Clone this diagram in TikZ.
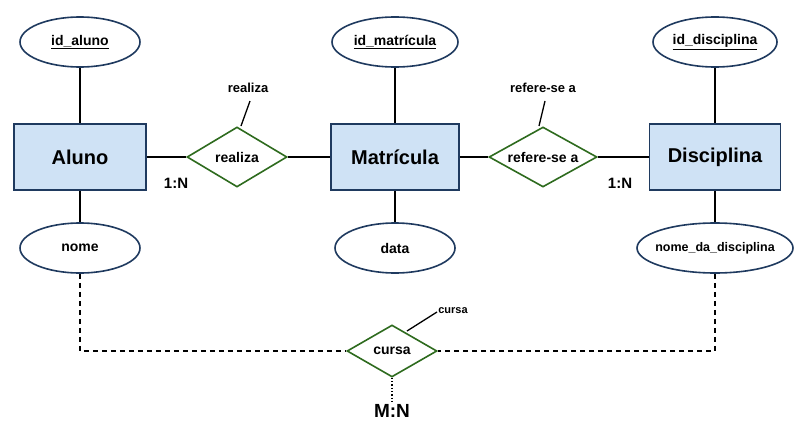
\documentclass[tikz,border=0pt]{standalone}
\usepackage{fontspec}
\setmainfont{Liberation Sans}
\usetikzlibrary{shapes.geometric}
\definecolor{ebox}{HTML}{CFE2F5}
\definecolor{eline}{HTML}{1F3A5F}
\definecolor{rel}{HTML}{2E6B1E}
\begin{document}
\begin{tikzpicture}[x=1pt,y=-1pt,
 ent/.style={draw=eline,line width=1.6pt,fill=ebox,minimum width=132pt,minimum height=66pt,font=\fontsize{20}{24}\selectfont\bfseries},
 att/.style={draw=eline,line width=1.6pt,ellipse,fill=white,minimum width=120pt,minimum height=50pt,inner sep=0pt,font=\fontsize{14}{17}\selectfont\bfseries},
 relt/.style={draw=rel,line width=1.6pt,diamond,aspect=1.7,fill=white,inner sep=0pt,font=\fontsize{14}{17}\selectfont\bfseries},
 lbl/.style={font=\fontsize{13}{15}\selectfont\bfseries},
 card/.style={font=\fontsize{15}{18}\selectfont\bfseries},
 ln/.style={line width=1.3pt,black}]
\useasboundingbox (0,0) rectangle (800,439);
\node[ent] (aluno) at (80,157) {Aluno};
\node[ent,minimum width=128pt] (matr) at (395,157) {Matrícula};
\node[ent,minimum width=131pt] (disc) at (715,157) {Disciplina};
\node[att] (ida) at (80,42) {\underline{id\_aluno}};
\node[att,minimum width=126pt] (idm) at (395,42) {\underline{id\_matrícula}};
\node[att,minimum width=124pt] (idd) at (715,42) {\underline{id\_disciplina}};
\node[att] (nome) at (80,248) {nome};
\node[att] (data) at (395,248) {data};
\node[draw=eline,line width=1.6pt,ellipse,fill=white,minimum width=156pt,minimum height=50pt,inner sep=0pt] (nd) at (715,248) {};
\node[font=\fontsize{12.5}{15}\selectfont\bfseries] (ndt) at (nd.center) {nome\_da\_disciplina};
\node[relt,minimum width=100pt,minimum height=60pt] (real) at (237,157) {realiza};
\node[relt,minimum width=108pt,minimum height=60pt] (ref) at (543,157) {refere-se a};
\node[relt,minimum width=90pt,minimum height=52pt] (cur) at (392,351) {cursa};
\draw[ln] (ida) -- (aluno); \draw[ln] (aluno) -- (nome);
\draw[ln] (idm) -- (matr); \draw[ln] (matr) -- (data);
\draw[ln] (idd) -- (disc); \draw[ln] (disc) -- (nd);
\draw[ln] (aluno) -- (real); \draw[ln] (real) -- (matr);
\draw[ln] (matr) -- (ref); \draw[ln] (ref) -- (disc);
\node[lbl] (lr) at (248,88) {realiza};
\node[lbl] (lref) at (543,88) {refere-se a};
\node[lbl,font=\fontsize{11}{13}\selectfont\bfseries] (lc) at (453,311) {cursa};
\coordinate (lr1) at (250,101); \coordinate (lr2) at (241,126);
\draw[ln] (lr1) -- (lr2);
\coordinate (lf1) at (545,101); \coordinate (lf2) at (539,126);
\draw[ln] (lf1) -- (lf2);
\coordinate (lc1) at (437,312); \coordinate (lc2) at (407,331);
\draw[ln] (lc1) -- (lc2);
\node[card] (c1) at (176,183) {1:N};
\node[card] (c2) at (620,183) {1:N};
\node[card,font=\fontsize{19}{22}\selectfont\bfseries] (mn) at (392,411) {M:N};
\draw[ln,dashed,dash pattern=on 5pt off 4pt] (nome.south) |- (cur.west);
\draw[ln,dashed,dash pattern=on 5pt off 4pt] (nd.south) |- (cur.east);
\draw[ln,dotted] (cur.south) -- (mn.north);
\end{tikzpicture}
\end{document}
